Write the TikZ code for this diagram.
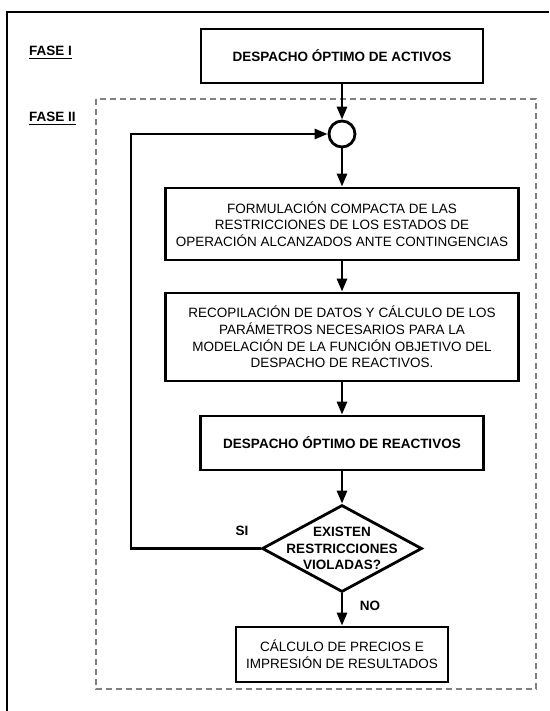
\documentclass[tikz,border=0pt]{standalone}
\usepackage{fontspec}
\setmainfont{Liberation Sans}
\usetikzlibrary{shapes.geometric,arrows.meta}
\begin{document}
\begin{tikzpicture}[x=1pt,y=-1pt,
	caja/.style={draw,line width=2.8pt,align=center,inner sep=0pt,font=\fontsize{13.5}{16.7}\selectfont},
	negrita/.style={font=\fontsize{13.5}{16.7}\selectfont\bfseries},
	decision/.style={draw,diamond,line width=2.8pt,align=center,inner sep=-20pt,minimum width=160pt,minimum height=87pt},
	union/.style={draw,circle,line width=2.8pt,minimum size=26pt,inner sep=0pt},
	flecha/.style={line width=2.8pt,-{Triangle[length=13pt,width=10pt]}},
	fase/.style={anchor=base west,inner sep=0pt,font=\fontsize{13.5}{16.7}\selectfont\bfseries},
	subrayado/.style={line width=1.2pt}]
	\useasboundingbox (0,0) rectangle (549,711);
	\draw[line width=2.8pt] (549,12) -- (7,12) -- (7,711);
	\draw[black!50,line width=1.3pt,dash pattern=on 6pt off 4pt] (96,99) rectangle (536,689);
	\node[fase] (fase1) at (29,55.8) {FASE I};
	\node[fase] (fase2) at (29,122) {FASE II};
	\draw[subrayado] ([yshift=-2.4pt]fase1.base west) -- ([yshift=-2.4pt]fase1.base east);
	\draw[subrayado] ([yshift=-2.4pt]fase2.base west) -- ([yshift=-2.4pt]fase2.base east);
	\node[caja,negrita,minimum width=282pt,minimum height=54pt] (activos) at (342,56) {DESPACHO ÓPTIMO DE ACTIVOS};
	\node[union] (suma) at (342,134) {};
	\node[caja,minimum width=353pt,minimum height=72pt] (formulacion) at (342,224) {FORMULACIÓN COMPACTA DE LAS\\RESTRICCIONES DE LOS ESTADOS DE\\OPERACIÓN ALCANZADOS ANTE CONTINGENCIAS};
	\node[caja,minimum width=353pt,minimum height=88pt] (recopilacion) at (342,337) {RECOPILACIÓN DE DATOS Y CÁLCULO DE LOS\\PARÁMETROS NECESARIOS PARA LA\\MODELACIÓN DE LA FUNCIÓN OBJETIVO DEL\\DESPACHO DE REACTIVOS.};
	\node[caja,negrita,minimum width=283pt,minimum height=54pt] (reactivos) at (342,443) {DESPACHO ÓPTIMO DE REACTIVOS};
	\node[decision,negrita] (violadas) at (342,548.5) {EXISTEN\\RESTRICCIONES\\VIOLADAS?};
	\node[caja,minimum width=212pt,minimum height=55pt] (precios) at (342,654.5) {CÁLCULO DE PRECIOS E\\IMPRESIÓN DE RESULTADOS};
	\node[negrita] (si) at (242,531) {SI};
	\node[negrita] (no) at (370,606) {NO};
	\coordinate (retorno) at (131,548.5);
	\draw[flecha] (activos) -- (suma);
	\draw[flecha] (suma) -- (formulacion);
	\draw[flecha] (formulacion) -- (recopilacion);
	\draw[flecha] (recopilacion) -- (reactivos);
	\draw[flecha] (reactivos) -- (violadas);
	\draw[flecha] (violadas) -- (precios);
	\draw[flecha] (violadas.west) -- (retorno) |- (suma);
\end{tikzpicture}
\end{document}
